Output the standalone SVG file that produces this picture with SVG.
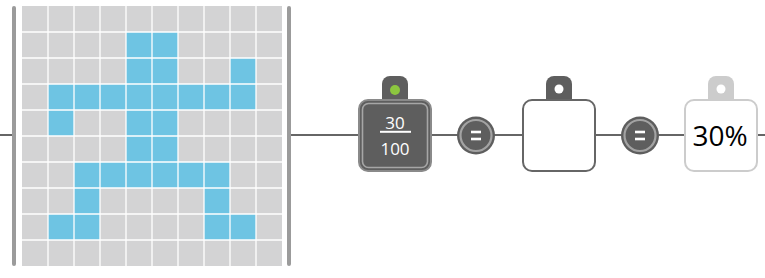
<svg xmlns="http://www.w3.org/2000/svg" width="765" height="278" viewBox="0 0 765 278">
<style>
.bar{fill:#9b9b9b}
.wire{stroke:#666;stroke-width:2;fill:none}
.eqo{fill:#5e5e5e}
.eqi{fill:none;stroke:#a3a3a3;stroke-width:2.2}
.eqt{stroke:#fff;stroke-width:2.6}
.t{font-family:"Open Sans","DejaVu Sans",sans-serif;text-anchor:middle}
</style>
<defs>
<path id="tag" d="M382,99 V84 A8,8 0 0 1 390,76 H400 A8,8 0 0 1 408,84 V99 Z"/>
</defs>
<g id="connectors">
<line class="wire" x1="0" y1="135" x2="13" y2="135"/>
<line class="wire" x1="290" y1="135" x2="765" y2="135"/>
</g>
<g id="grid">
<rect class="bar" x="12" y="6" width="4" height="260" rx="2"/>
<rect class="bar" x="287" y="6" width="4" height="260" rx="2"/>
<rect x="22" y="6" width="260" height="260" fill="#d3d3d4"/>
<g fill="#6ec4e3">
<rect x="126" y="32" width="52" height="52"/>
<rect x="230" y="58" width="26" height="26"/>
<rect x="48" y="84" width="208" height="26"/>
<rect x="48" y="110" width="26" height="26"/>
<rect x="126" y="110" width="52" height="52"/>
<rect x="74" y="162" width="156" height="26"/>
<rect x="74" y="188" width="26" height="26"/>
<rect x="204" y="188" width="26" height="26"/>
<rect x="48" y="214" width="52" height="26"/>
<rect x="204" y="214" width="52" height="26"/>
</g>
<g stroke="#fff" stroke-width="1.3">
<line x1="48" y1="6" x2="48" y2="266"/>
<line x1="74" y1="6" x2="74" y2="266"/>
<line x1="100" y1="6" x2="100" y2="266"/>
<line x1="126" y1="6" x2="126" y2="266"/>
<line x1="152" y1="6" x2="152" y2="266"/>
<line x1="178" y1="6" x2="178" y2="266"/>
<line x1="204" y1="6" x2="204" y2="266"/>
<line x1="230" y1="6" x2="230" y2="266"/>
<line x1="256" y1="6" x2="256" y2="266"/>
<line x1="22" y1="32" x2="282" y2="32"/>
<line x1="22" y1="58" x2="282" y2="58"/>
<line x1="22" y1="84" x2="282" y2="84"/>
<line x1="22" y1="110" x2="282" y2="110"/>
<line x1="22" y1="136" x2="282" y2="136"/>
<line x1="22" y1="162" x2="282" y2="162"/>
<line x1="22" y1="188" x2="282" y2="188"/>
<line x1="22" y1="214" x2="282" y2="214"/>
<line x1="22" y1="240" x2="282" y2="240"/>
</g>
</g>
<g id="fraction">
<use href="#tag" fill="#5e5e5e"/>
<circle cx="395" cy="90" r="5" fill="#8cc63f"/>
<rect x="359" y="100" width="72" height="71" rx="9" fill="#5e5e5e" stroke="#8a8a8a" stroke-width="2"/>
<rect x="362.5" y="103.5" width="65" height="64" rx="6" fill="none" stroke="#a6a6a6" stroke-width="1.6"/>
<text class="t" x="395" y="129" font-size="17" fill="#fff">30</text>
<line x1="380" y1="131.8" x2="411" y2="131.8" stroke="#fff" stroke-width="2"/>
<text class="t" x="395" y="154.5" font-size="17" fill="#fff">100</text>
</g>
<g id="eq1">
<circle class="eqo" cx="476" cy="135.5" r="19"/>
<circle class="eqi" cx="476" cy="135.5" r="15.5"/>
<line class="eqt" x1="471" y1="132" x2="481" y2="132"/>
<line class="eqt" x1="471" y1="139" x2="481" y2="139"/>
</g>
<g id="empty">
<use href="#tag" fill="#5e5e5e" transform="translate(164,0)"/>
<circle cx="559" cy="89" r="4.5" fill="#fff"/>
<rect x="523" y="100" width="72" height="71" rx="9" fill="#fff" stroke="#666" stroke-width="2"/>
</g>
<g id="eq2">
<circle class="eqo" cx="640" cy="135.5" r="19"/>
<circle class="eqi" cx="640" cy="135.5" r="15.5"/>
<line class="eqt" x1="635" y1="132" x2="645" y2="132"/>
<line class="eqt" x1="635" y1="139" x2="645" y2="139"/>
</g>
<g id="result">
<use href="#tag" fill="#cccccc" transform="translate(326,0)"/>
<circle cx="721" cy="89" r="4.5" fill="#fff"/>
<rect x="685" y="100" width="72" height="71" rx="9" fill="#fff" stroke="#cccccc" stroke-width="2"/>
<text class="t" x="720" y="146" font-size="28" fill="#000">30%</text>
</g>
</svg>
